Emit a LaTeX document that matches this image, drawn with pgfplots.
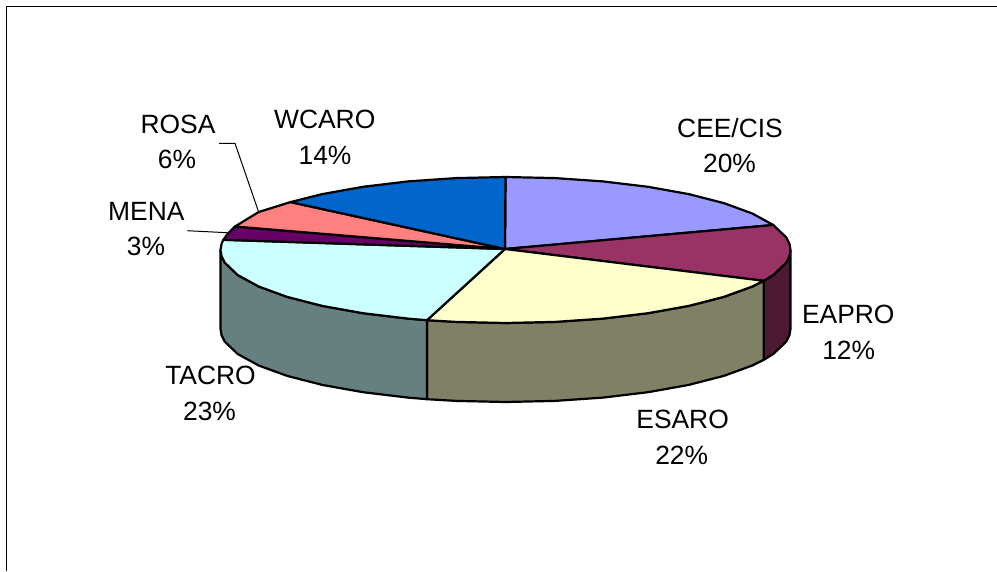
\documentclass[border=0pt]{standalone}
\usepackage{fontspec}
\setmainfont{Liberation Sans}
\usepackage{pgfplots}
\pgfplotsset{compat=1.18}
\tikzset{lbl/.style={font=\fontsize{26.4}{30}\selectfont,text=black,inner sep=0pt,anchor=base}}
\definecolor{cee}{HTML}{9999FF}
\definecolor{eapro}{HTML}{993366}
\definecolor{eaprow}{HTML}{4D1933}
\definecolor{esaro}{HTML}{FFFFCC}
\definecolor{esarow}{HTML}{808066}
\definecolor{tacro}{HTML}{CCFFFF}
\definecolor{tacrow}{HTML}{668080}
\definecolor{mena}{HTML}{660066}
\definecolor{rosa}{HTML}{FF8080}
\definecolor{wcaro}{HTML}{0066CC}
\begin{document}
\begin{tikzpicture}
\useasboundingbox (0,0) rectangle (997pt,571pt);
\begin{axis}[at={(0,0)},anchor=south west,width=997pt,height=571pt,scale only axis,
  xmin=0,xmax=997,ymin=0,ymax=571,y dir=reverse,hide axis,clip=true,
  every axis plot/.append style={no marks,line join=round,draw=black,line width=2.2pt}]
% frame
\addplot[line width=1.6pt] coordinates {(6.5,571) (6.5,6.5) (997,6.5)};
% side walls
\addplot[fill=eaprow] coordinates {(790.5,250)(789.4,256.4)(786.2,262.7)(773.3,275)(763.8,280.8)(763.8,359.8)(773.3,354)(786.2,341.7)(789.4,335.4)(790.5,329)(790.5,250)};
\addplot[fill=esarow] coordinates {(763.8,280.8)(752.3,286.5)(723.8,296.9)(688.7,305.9)(648,313.2)(603,318.6)(555,321.9)(505.5,323)(456,321.9)(427,320.2)(427,399.2)(456,400.9)(505.5,402)(555,400.9)(603,397.6)(648,392.2)(688.7,384.9)(723.8,375.9)(752.3,365.5)(763.8,359.8)(763.8,280.8)};
\addplot[fill=tacrow] coordinates {(427,320.2)(408,318.6)(363,313.2)(322.3,305.9)(287.2,296.9)(258.7,286.5)(237.7,275)(224.8,262.7)(221.6,256.4)(220.5,250)(220.5,329)(221.6,335.4)(224.8,341.7)(237.7,354)(258.7,365.5)(287.2,375.9)(322.3,384.9)(363,392.2)(408,397.6)(427,399.2)(427,320.2)};
% top slices
\addplot[fill=cee] coordinates {(505,249)(505.5,177)(555,178.1)(603,181.4)(648,186.8)(688.7,194.1)(723.8,203.1)(752.3,213.5)(773.3,225)(505,249)};
\addplot[fill=eapro] coordinates {(505,249)(773.3,225)(786.2,237.3)(789.4,243.6)(790.5,250)(789.4,256.4)(786.2,262.7)(773.3,275)(763.8,280.8)(505,249)};
\addplot[fill=esaro] coordinates {(505,249)(763.8,280.8)(752.3,286.5)(723.8,296.9)(688.7,305.9)(648,313.2)(603,318.6)(555,321.9)(505.5,323)(456,321.9)(427,320.2)(505,249)};
\addplot[fill=tacro] coordinates {(505,249)(427,320.2)(408,318.6)(363,313.2)(322.3,305.9)(287.2,296.9)(258.7,286.5)(237.7,275)(224.8,262.7)(221.6,256.4)(220.5,250)(221.6,243.6)(223.3,239.8)(505,249)};
\addplot[fill=mena] coordinates {(505,249)(223.3,239.8)(227.8,233.6)(235,226.5)(505,249)};
\addplot[fill=rosa] coordinates {(505,249)(235,226.5)(258.7,212)(290.4,202.1)(505,249)};
\addplot[fill=wcaro] coordinates {(505,249)(290.4,202.1)(322.3,194.1)(363,186.8)(408,181.4)(456,178.1)(505.5,177)(505,249)};
% leader lines
\addplot[line width=1pt] coordinates {(219,143.3)(235,143.3)(258.3,211)};
\addplot[line width=1pt] coordinates {(187.3,230.7)(227,232.7)};
% labels
\node[lbl] at (axis cs:730,137) {CEE/CIS};
\node[lbl] at (axis cs:729.5,172.7) {20\%};
\node[lbl] at (axis cs:848.3,323) {EAPRO};
\node[lbl] at (axis cs:848.7,359) {12\%};
\node[lbl] at (axis cs:682.6,428) {ESARO};
\node[lbl] at (axis cs:681.7,464) {22\%};
\node[lbl] at (axis cs:210.5,384) {TACRO};
\node[lbl] at (axis cs:209.5,420) {23\%};
\node[lbl] at (axis cs:146.3,220) {MENA};
\node[lbl] at (axis cs:146,255.5) {3\%};
\node[lbl] at (axis cs:178,133) {ROSA};
\node[lbl] at (axis cs:177,168) {6\%};
\node[lbl] at (axis cs:324.7,128) {WCARO};
\node[lbl] at (axis cs:325,164) {14\%};
\end{axis}
\end{tikzpicture}
\end{document}
